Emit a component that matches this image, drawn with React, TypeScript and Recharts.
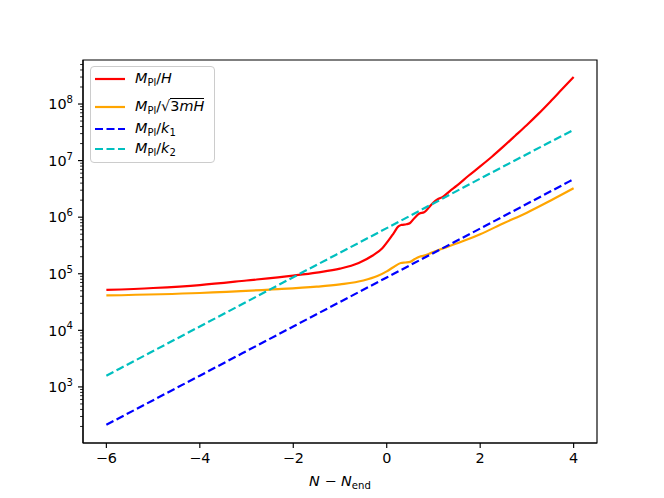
import * as React from 'react';
import { LineChart, Line, XAxis, YAxis, Legend, ReferenceArea } from 'recharts';

// N - N_end values and the four scales
const hubbleN = [-6, -5, -4, -3, -2, -1.5, -1, -0.6, -0.3, -0.1, 0.05, 0.15, 0.25, 0.32, 0.42, 0.5, 0.6, 0.7, 0.8, 0.9, 1.0, 1.1, 1.2, 1.35, 1.5, 1.75, 2.0, 2.25, 2.5, 2.75, 3.0, 3.25, 3.5, 3.75, 4.0];
const hubbleVals = [5.18e4, 5.6e4, 6.3e4, 7.6e4, 9.3e4, 1.05e5, 1.23e5, 1.55e5, 2.1e5, 2.8e5, 4.0e5, 5.25e5, 6.9e5, 7.3e5, 7.5e5, 7.9e5, 9.8e5, 1.16e6, 1.22e6, 1.48e6, 1.82e6, 2.09e6, 2.29e6, 2.9e6, 3.6e6, 5.4e6, 7.9e6, 1.17e7, 1.78e7, 2.75e7, 4.27e7, 6.76e7, 1.1e8, 1.82e8, 3.0e8];

const massN = [-6, -4, -2.5, -1.5, -1, -0.5, -0.2, 0, 0.15, 0.3, 0.4, 0.5, 0.6, 0.7, 0.8, 0.95, 1.25, 1.75, 2.0, 2.5, 3.0, 3.5, 4.0];
const massVals = [4.14e4, 4.57e4, 5.25e4, 5.9e4, 6.5e4, 7.6e4, 9.1e4, 1.1e5, 1.32e5, 1.55e5, 1.58e5, 1.62e5, 1.82e5, 2.0e5, 2.09e5, 2.34e5, 2.9e5, 4.1e5, 5.0e5, 7.8e5, 1.2e6, 1.95e6, 3.24e6];

const kN = [-6, -4, -2, 0, 2, 4];
const k1Vals = [214, 1580, 1.17e4, 8.6e4, 6.3e5, 4.7e6];
const k2Vals = [1580, 1.17e4, 8.7e4, 6.4e5, 4.8e6, 3.5e7];

const xTicks = [-6, -4, -2, 0, 2, 4];
const yTicks = [1e3, 1e4, 1e5, 1e6, 1e7, 1e8];
const yMinorTicks = [2, 3, 4, 5, 6, 7, 8, 9].flatMap(m => [1e2, 1e3, 1e4, 1e5, 1e6, 1e7, 1e8].map(d => m * d)).filter(v => v < 6.0e8);
const yAllTicks = [...yTicks, ...yMinorTicks].sort((a, b) => a - b);

const toPoints = (xs: number[], ys: number[]) => xs.map((x, i) => ({ x, y: ys[i] }));

const FONT = '"DejaVu Sans", sans-serif';
const X_DOMAIN: [number, number] = [-6.5, 4.5];
const Y_DOMAIN: [number, number] = [102, 6.0e8];
const TICK_SIZE = 5;
const TICK_MARGIN = 5;

const series = [
  { name: 'hubble', color: '#ff0000', dash: undefined, data: toPoints(hubbleN, hubbleVals) },
  { name: 'mass', color: '#ffa500', dash: undefined, data: toPoints(massN, massVals) },
  { name: 'k1', color: '#0000ff', dash: '8 3.5', data: toPoints(kN, k1Vals) },
  { name: 'k2', color: '#00bfbf', dash: '8 3.5', data: toPoints(kN, k2Vals) },
];

const sub = { fontSize: 10, fontStyle: 'normal' as const, verticalAlign: '-3px' };

const legendLabels: Record<string, React.ReactNode> = {
  hubble: <span><i>M</i><span style={sub}>Pl</span>/<i>H</i></span>,
  mass: (
    <span>
      <i>M</i><span style={sub}>Pl</span>/√<span style={{ borderTop: '1.2px solid #000', paddingTop: 0, display: 'inline-block', lineHeight: '15px' }}>3<i>mH</i></span>
    </span>
  ),
  k1: <span><i>M</i><span style={sub}>Pl</span>/<i>k</i><span style={sub}>1</span></span>,
  k2: <span><i>M</i><span style={sub}>Pl</span>/<i>k</i><span style={sub}>2</span></span>,
};

const rowGaps = [2, 8, 2, 0];

function LegendBox() {
  return (
    <div style={{
      border: '1px solid #cccccc', borderRadius: 4, background: 'rgba(255,255,255,0.8)',
      padding: '0 10px 3px 4px', fontFamily: FONT, fontSize: 14.4, color: '#000', width: 109,
    }}>
      {series.map((s, i) => (
        <div key={s.name} style={{ display: 'flex', alignItems: 'center', height: 20, marginTop: rowGaps[i] }}>
          <svg width={30} height={6} style={{ marginRight: 10, flex: 'none' }}>
            <line x1={0} x2={30} y1={3} y2={3} stroke={s.color} strokeWidth={2.2} strokeDasharray={s.dash} />
          </svg>
          <span style={{ whiteSpace: 'nowrap' }}>{legendLabels[s.name]}</span>
        </div>
      ))}
    </div>
  );
}

// log-axis tick: long tick + 10^n label on decades, short bare tick otherwise
function LogTick(props: any) {
  const { x, y, payload } = props;
  const axisX = x + TICK_SIZE + TICK_MARGIN;
  const major = yTicks.includes(payload.value);
  if (!major) {
    return <line x1={axisX - 2.9} x2={axisX} y1={y} y2={y} stroke="#000" strokeWidth={0.85} />;
  }
  const exp = Math.round(Math.log10(payload.value));
  return (
    <g>
      <line x1={axisX - TICK_SIZE} x2={axisX} y1={y} y2={y} stroke="#000" strokeWidth={1.15} />
      <text x={x} y={y} textAnchor="end" fontSize={14.4} fontFamily={FONT} fill="#000">
        <tspan dy="0.36em">10</tspan>
        <tspan dy="-0.62em" fontSize={10.1}>{exp}</tspan>
      </text>
    </g>
  );
}

function XLabel(props: any) {
  const { x, y, width } = props.viewBox;
  return (
    <text x={x + width / 2} y={y + 43} textAnchor="middle" fontSize={14.4} fontFamily={FONT} fill="#000">
      <tspan fontStyle="italic">N</tspan>
      <tspan> − </tspan>
      <tspan fontStyle="italic">N</tspan>
      <tspan fontSize={10.1} dy={3}>end</tspan>
    </text>
  );
}

export default function App() {
  return (
    <div style={{ position: 'absolute', left: 0, top: 0, width: 664, height: 498, background: '#fff', fontFamily: FONT }}>
      <LineChart width={664} height={498} margin={{ top: 60, right: 67, bottom: 0, left: 0 }}>
        <XAxis
          xAxisId="main"
          dataKey="x"
          type="number"
          domain={X_DOMAIN}
          allowDataOverflow
          ticks={xTicks}
          interval={0}
          tickFormatter={(v: number) => String(v).replace('-', '−')}
          tick={{ fill: '#000', fontSize: 14.4, fontFamily: FONT }}
          stroke="#000"
          strokeWidth={1.15}
          tickSize={TICK_SIZE}
          tickMargin={TICK_MARGIN}
          height={55}
          label={<XLabel />}
        />
        <YAxis
          yAxisId="main"
          type="number"
          scale="log"
          domain={Y_DOMAIN}
          allowDataOverflow
          ticks={yAllTicks}
          interval={0}
          tick={<LogTick />}
          tickLine={false}
          stroke="#000"
          strokeWidth={1.15}
          tickSize={TICK_SIZE}
          tickMargin={TICK_MARGIN}
          width={83}
        />
        <ReferenceArea
          xAxisId="main"
          yAxisId="main"
          x1={X_DOMAIN[0]}
          x2={X_DOMAIN[1]}
          y1={Y_DOMAIN[0]}
          y2={Y_DOMAIN[1]}
          fill="none"
          fillOpacity={0}
          stroke="#000"
          strokeWidth={1.15}
          strokeOpacity={1}
          ifOverflow="visible"
        />
        {series.map(s => (
          <Line
            key={s.name}
            xAxisId="main"
            yAxisId="main"
            data={s.data}
            dataKey="y"
            name={s.name}
            type="monotone"
            stroke={s.color}
            strokeWidth={2.2}
            strokeDasharray={s.dash}
            dot={false}
            activeDot={false}
            isAnimationActive={false}
          />
        ))}
        <Legend
          layout="vertical"
          align="center"
          verticalAlign="middle"
          content={<LegendBox />}
          wrapperStyle={{ left: 90, top: 66, width: 'auto' }}
        />
      </LineChart>
    </div>
  );
}
